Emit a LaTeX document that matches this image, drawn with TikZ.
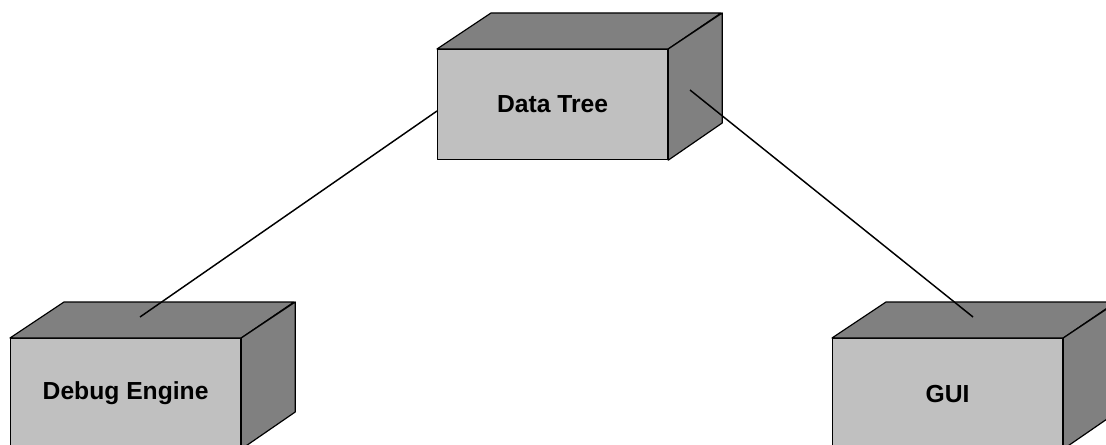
\documentclass[tikz,border=0pt]{standalone}
\usepackage{fontspec}
\setmainfont{Liberation Sans}
\definecolor{facelight}{RGB}{192,192,192}
\definecolor{facedark}{RGB}{128,128,128}
\tikzset{
  edgeline/.style={draw=black, line width=0.9pt, line join=round},
  frontface/.style={edgeline, fill=facelight, rectangle, inner sep=0pt,
    minimum width=172.5pt, minimum height=82.5pt,
    font=\fontsize{18.5}{22}\selectfont\bfseries},
  darkface/.style={edgeline, fill=facedark},
  link/.style={draw=black, line width=1.1pt},
}
% a box: front face node plus its top and side faces
\newcommand\blockbox[4]{%
  \node[frontface, anchor=north west] (#1) at (#2,#3) {#4};
  \path[darkface] (#1.north west) -- ++(54,-36) -- ++(230,0) -- (#1.north east) -- cycle;
  \path[darkface] (#1.north east) -- ++(54,-36) -- ++(0,110) -- (#1.south east) -- cycle;
}
\begin{document}
\begin{tikzpicture}[x=0.75pt,y=-0.75pt]
  \useasboundingbox (0,0) rectangle (1106,445);
  \fill[white] (0,0) rectangle (1106,445);
  \clip (0,0) rectangle (1106,445);

  \blockbox{dt}{437}{49}{Data Tree}
  \blockbox{dbg}{10}{338}{Debug Engine}
  \blockbox{gui}{832}{338}{GUI}

  % connector ends on the boxes
  \coordinate (dbgTop) at (140,317);
  \coordinate (dtLeft) at (437,111);
  \coordinate (dtSide) at (690,90);
  \coordinate (guiTop) at (973,317);

  \draw[link] (dbgTop) -- (dtLeft);
  \draw[link] (dtSide) -- (guiTop);
\end{tikzpicture}
\end{document}
